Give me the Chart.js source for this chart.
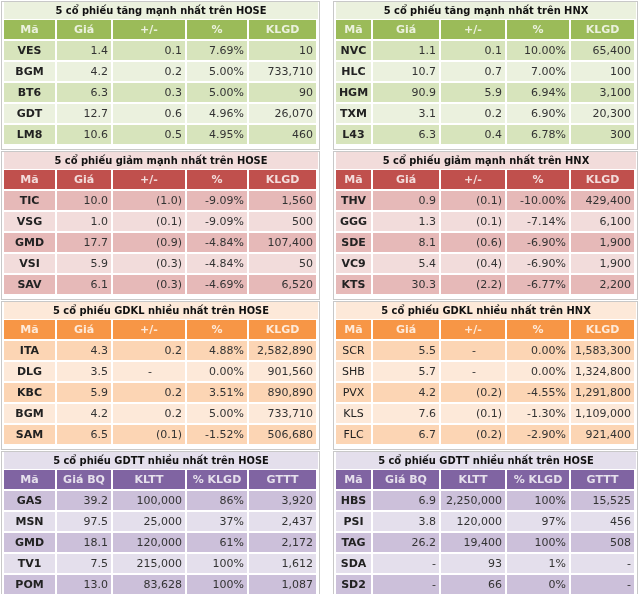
<!DOCTYPE html>
<html><head><meta charset="utf-8">
<script src="https://cdn.jsdelivr.net/npm/chart.js@4.4.0/dist/chart.umd.min.js"></script>
<style>html,body{margin:0;padding:0;background:#fff}#c{display:block}</style>
</head><body>
<canvas id="c" width="640" height="594"></canvas>
<script>
// section titles
var titles = [
  ["5 cổ phiếu tăng mạnh nhất trên HOSE", "5 cổ phiếu tăng mạnh nhất trên HNX"],
  ["5 cổ phiếu giảm mạnh nhất trên HOSE", "5 cổ phiếu giảm mạnh nhất trên HNX"],
  ["5 cổ phiếu GDKL nhiều nhất trên HOSE", "5 cổ phiếu GDKL nhiều nhất trên HNX"],
  ["5 cổ phiếu GDTT nhiều nhất trên HOSE", "5 cổ phiếu GDTT nhiều nhất trên HOSE"]
];
var headers = ["Mã", "Giá", "+/-", "%", "KLGD"];
var headersTT = ["Mã", "Giá BQ", "KLTT", "% KLGD", "GTTT"];

var upHoseCodes = ["VES", "BGM", "BT6", "GDT", "LM8"];
var upHosePrice = ["1.4", "4.2", "6.3", "12.7", "10.6"];
var upHoseChg = ["0.1", "0.2", "0.3", "0.6", "0.5"];
var upHosePct = ["7.69%", "5.00%", "5.00%", "4.96%", "4.95%"];
var upHoseVol = ["10", "733,710", "90", "26,070", "460"];

var upHnxCodes = ["NVC", "HLC", "HGM", "TXM", "L43"];
var upHnxPrice = ["1.1", "10.7", "90.9", "3.1", "6.3"];
var upHnxChg = ["0.1", "0.7", "5.9", "0.2", "0.4"];
var upHnxPct = ["10.00%", "7.00%", "6.94%", "6.90%", "6.78%"];
var upHnxVol = ["65,400", "100", "3,100", "20,300", "300"];

var downHoseCodes = ["TIC", "VSG", "GMD", "VSI", "SAV"];
var downHosePrice = ["10.0", "1.0", "17.7", "5.9", "6.1"];
var downHoseChg = ["(1.0)", "(0.1)", "(0.9)", "(0.3)", "(0.3)"];
var downHosePct = ["-9.09%", "-9.09%", "-4.84%", "-4.84%", "-4.69%"];
var downHoseVol = ["1,560", "500", "107,400", "50", "6,520"];

var downHnxCodes = ["THV", "GGG", "SDE", "VC9", "KTS"];
var downHnxPrice = ["0.9", "1.3", "8.1", "5.4", "30.3"];
var downHnxChg = ["(0.1)", "(0.1)", "(0.6)", "(0.4)", "(2.2)"];
var downHnxPct = ["-10.00%", "-7.14%", "-6.90%", "-6.90%", "-6.77%"];
var downHnxVol = ["429,400", "6,100", "1,900", "1,900", "2,200"];

var volHoseCodes = ["ITA", "DLG", "KBC", "BGM", "SAM"];
var volHosePrice = ["4.3", "3.5", "5.9", "4.2", "6.5"];
var volHoseChg = ["0.2", "-", "0.2", "0.2", "(0.1)"];
var volHosePct = ["4.88%", "0.00%", "3.51%", "5.00%", "-1.52%"];
var volHoseVol = ["2,582,890", "901,560", "890,890", "733,710", "506,680"];

var volHnxCodes = ["SCR", "SHB", "PVX", "KLS", "FLC"];
var volHnxPrice = ["5.5", "5.7", "4.2", "7.6", "6.7"];
var volHnxChg = ["-", "-", "(0.2)", "(0.1)", "(0.2)"];
var volHnxPct = ["0.00%", "0.00%", "-4.55%", "-1.30%", "-2.90%"];
var volHnxVol = ["1,583,300", "1,324,800", "1,291,800", "1,109,000", "921,400"];

var ttLeftCodes = ["GAS", "MSN", "GMD", "TV1", "POM"];
var ttLeftPrice = ["39.2", "97.5", "18.1", "7.5", "13.0"];
var ttLeftVol = ["100,000", "25,000", "120,000", "215,000", "83,628"];
var ttLeftPct = ["86%", "37%", "61%", "100%", "100%"];
var ttLeftVal = ["3,920", "2,437", "2,172", "1,612", "1,087"];

var ttRightCodes = ["HBS", "PSI", "TAG", "SDA", "SD2"];
var ttRightPrice = ["6.9", "3.8", "26.2", "-", "-"];
var ttRightVol = ["2,250,000", "120,000", "19,400", "93", "66"];
var ttRightPct = ["100%", "97%", "100%", "1%", "0%"];
var ttRightVal = ["15,525", "456", "508", "-", "-"];

var themes = [
  {head: "#9bbb59", a: "#d7e4bc", b: "#ebf1de", title: "#ebf1de"},
  {head: "#c0504d", a: "#e6b9b8", b: "#f2dcdb", title: "#f2dcdb"},
  {head: "#f79646", a: "#fcd5b4", b: "#fde9d9", title: "#fde9d9"},
  {head: "#8064a2", a: "#ccc0da", b: "#e4dfec", title: "#e4dfec"}
];

var tables = [
  [[upHoseCodes, upHosePrice, upHoseChg, upHosePct, upHoseVol], [upHnxCodes, upHnxPrice, upHnxChg, upHnxPct, upHnxVol]],
  [[downHoseCodes, downHosePrice, downHoseChg, downHosePct, downHoseVol], [downHnxCodes, downHnxPrice, downHnxChg, downHnxPct, downHnxVol]],
  [[volHoseCodes, volHosePrice, volHoseChg, volHosePct, volHoseVol], [volHnxCodes, volHnxPrice, volHnxChg, volHnxPct, volHnxVol]],
  [[ttLeftCodes, ttLeftPrice, ttLeftVol, ttLeftPct, ttLeftVal], [ttRightCodes, ttRightPrice, ttRightVol, ttRightPct, ttRightVal]]
];

// column edges in page units (x scale 0..640)
var colEdges = [[4, 57, 113, 187, 249, 318], [336, 373, 441, 507, 571, 636]];

var tablePlugin = {
  id: "tables",
  afterDraw: function(chart) {
    var ctx = chart.ctx, xs = chart.scales.x, ys = chart.scales.y;
    var X = function(v){ return xs.getPixelForValue(v); };
    var Y = function(v){ return ys.getPixelForValue(v); };
    ctx.save();
    ctx.textBaseline = "middle";
    for (var s = 0; s < 4; s++) {
      var top = s * 150 + 1, th = themes[s];
      for (var side = 0; side < 2; side++) {
        var e = colEdges[side], data = tables[s][side];
        // frame
        ctx.strokeStyle = "#c8c8c8"; ctx.lineWidth = 1;
        ctx.strokeRect(X(e[0]) - 2.5, Y(top) + 0.5, X(e[5]) - X(e[0]) + 4, Y(top + 148) - Y(top));
        // title
        ctx.fillStyle = th.title;
        ctx.fillRect(X(e[0]), Y(top + 1), X(e[5]) - X(e[0]), Y(top + 18) - Y(top + 1));
        ctx.fillStyle = "#111"; ctx.font = "bold 11px 'DejaVu Sans Condensed', 'DejaVu Sans'"; ctx.textAlign = "center";
        ctx.fillText(titles[s][side], (X(e[0]) + X(e[5])) / 2, Y(top + 10));
        // header
        var hdr = s === 3 ? headersTT : headers;
        for (var c = 0; c < 5; c++) {
          ctx.fillStyle = th.head;
          ctx.fillRect(X(e[c]), Y(top + 19), X(e[c + 1]) - X(e[c]) - 2, Y(top + 38) - Y(top + 19));
          ctx.fillStyle = "rgba(255,255,255,0.8)"; ctx.font = "bold 11px 'DejaVu Sans'"; ctx.textAlign = "center";
          ctx.fillText(hdr[c], (X(e[c]) + X(e[c + 1]) - 2) / 2, Y(top + 29));
        }
        // rows
        for (var r = 0; r < 5; r++) {
          var ry = top + 40 + r * 21;
          for (var c2 = 0; c2 < 5; c2++) {
            ctx.fillStyle = r % 2 === 0 ? th.a : th.b;
            ctx.fillRect(X(e[c2]), Y(ry), X(e[c2 + 1]) - X(e[c2]) - 2, Y(ry + 19) - Y(ry));
            var txt = data[c2][r];
            if (c2 === 0) {
              var bold = !(s === 2 && side === 1);
              ctx.font = (bold ? "bold " : "") + "11px 'DejaVu Sans'";
              ctx.fillStyle = "#222"; ctx.textAlign = "center";
              ctx.fillText(txt, (X(e[0]) + X(e[1]) - 2) / 2, Y(ry + 10));
            } else {
              ctx.font = "11px 'DejaVu Sans'"; ctx.fillStyle = "#333";
              if (txt === "-" && c2 === 2) { ctx.textAlign = "center"; ctx.fillText(txt, (X(e[c2]) + X(e[c2 + 1])) / 2, Y(ry + 10)); }
              else { ctx.textAlign = "right"; ctx.fillText(txt, X(e[c2 + 1]) - 5, Y(ry + 10)); }
            }
          }
        }
      }
    }
    ctx.restore();
  }
};

new Chart(document.getElementById("c"), {
  type: "scatter",
  data: { datasets: [] },
  options: {
    responsive: false, animation: false,
    layout: { padding: 0 },
    plugins: { legend: { display: false }, tooltip: { enabled: false } },
    scales: {
      x: { type: "linear", min: 0, max: 640, display: false },
      y: { type: "linear", min: 0, max: 594, reverse: true, display: false }
    }
  },
  plugins: [tablePlugin]
});
</script>
</body></html>
